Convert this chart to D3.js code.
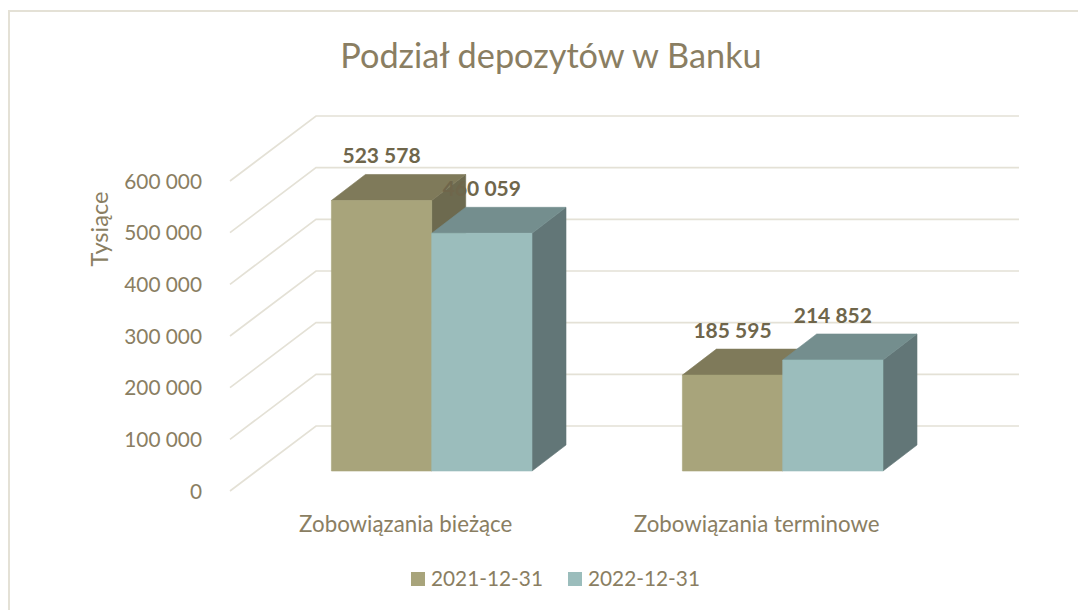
<!DOCTYPE html>
<html><head><meta charset="utf-8">
<script src="https://cdn.jsdelivr.net/npm/d3@7/dist/d3.min.js"></script>
<style>html,body{margin:0;padding:0;background:#fff}svg{display:block}text{font-family:Lato,Carlito,sans-serif}</style>
</head><body><svg id="c" width="1078" height="610"></svg>
<script>
const categories = ["Zobowiązania bieżące", "Zobowiązania terminowe"];
const seriesNames = ["2021-12-31", "2022-12-31"];
const values2021 = [523578, 185595];
const values2022 = [460059, 214852];
const yTicks = [0, 100000, 200000, 300000, 400000, 500000, 600000];
const titleText = "Podział depozytów w Banku";
const yAxisTitle = "Tysiące";

const svg = d3.select("#c");
const fmt = v => d3.format(",")(v).replace(/,/g, " ");
const colors = [
  {front:"#a8a47b", top:"#7f7a5a", side:"#6d6a4f"},
  {front:"#9bbdbc", top:"#748e8e", side:"#627677"}
];
const stroke = "#e4e1d6";
const textCol = "#8a7e62", labelCol = "#6f664b";

// frame: only the top and left edges fall inside the picture
const frame = svg.append("g").attr("stroke",stroke).attr("stroke-width",2).attr("fill","none");
frame.append("path").attr("d","M1078,11H9V610");

// Scales: y is the front face of the bars (baseline 471)
const y = d3.scaleLinear().domain([0,600000]).range([471,161]);
const x0 = d3.scaleBand().domain(categories).range([256.2,958.2]).paddingInner(0.4285).paddingOuter(0.2143);
const x1 = d3.scaleBand().domain(seriesNames).range([0,x0.bandwidth()]);
const depth = {dx:34, dy:-26};
const wall = {fx:-26.5, fy:20, bx:59.5, by:-45};
const rightEnd = 1019;

// gridlines (floor/wall)
const grid = svg.append("g").attr("fill","none").attr("stroke",stroke).attr("stroke-width",1.7);
yTicks.forEach(t=>{
  const p = d3.path();
  p.moveTo(256.5+wall.fx, y(t)+wall.fy);
  p.lineTo(256.5+wall.bx, y(t)+wall.by);
  p.lineTo(rightEnd, y(t)+wall.by);
  grid.append("path").attr("d",p.toString());
});

// tick labels
const axisG = svg.append("g").attr("font-size",20.8).attr("fill",textCol).attr("text-anchor","end");
yTicks.forEach(t=>{
  axisG.append("text").attr("x",202).attr("y",y(t)+wall.fy+7.5).text(fmt(t));
});

// category labels
const catG = svg.append("g").attr("font-size",22.3).attr("fill",textCol).attr("text-anchor","middle");
categories.forEach(c=>{
  catG.append("text").attr("x",x0(c)+x0.bandwidth()/2-26).attr("y",532).text(c);
});

// bars
const valuesBySeries = [values2021, values2022];
const bars = svg.append("g");
categories.forEach((c,ci)=>{
  seriesNames.forEach((s,si)=>{
    const v = valuesBySeries[si][ci];
    const xl = x0(c)+x1(s), xr = xl+x1.bandwidth(), yt = y(v), yb = y(0);
    const col = colors[si];
    const poly = (pts,fill)=>bars.append("polygon").attr("points",pts.map(p=>p.join(",")).join(" "))
      .attr("fill",fill).attr("stroke",fill).attr("stroke-width",0.6);
    poly([[xr,yt],[xr+depth.dx,yt+depth.dy],[xr+depth.dx,yb+depth.dy],[xr,yb]],col.side);
    poly([[xl,yt],[xl+depth.dx,yt+depth.dy],[xr+depth.dx,yt+depth.dy],[xr,yt]],col.top);
    poly([[xl,yt],[xr,yt],[xr,yb],[xl,yb]],col.front);
  });
});

// data labels
const lab = svg.append("g").attr("font-size",21).attr("font-weight",700).attr("fill",labelCol).attr("text-anchor","middle");
categories.forEach((c,ci)=>{
  seriesNames.forEach((s,si)=>{
    const v = valuesBySeries[si][ci];
    const xm = x0(c)+x1(s)+x1.bandwidth()/2;
    lab.append("text").attr("x",xm).attr("y",y(v)-37).text(fmt(v));
  });
});

// title
svg.append("text").attr("x",551).attr("y",68).attr("text-anchor","middle")
  .attr("font-size",34.3).attr("fill",textCol).text(titleText);

// y axis title
svg.append("text").attr("transform","translate(108,229) rotate(-90)").attr("text-anchor","middle")
  .attr("font-size",23.6).attr("fill",textCol).text(yAxisTitle);

// legend
const lg = svg.append("g");
[[411,431],[568,588]].forEach((p,i)=>{
  lg.append("rect").attr("x",p[0]).attr("y",572).attr("width",14).attr("height",14).attr("fill",colors[i].front);
  lg.append("text").attr("x",p[1]).attr("y",586).attr("font-size",20.8).attr("fill",textCol).text(seriesNames[i]);
});
</script></body></html>
